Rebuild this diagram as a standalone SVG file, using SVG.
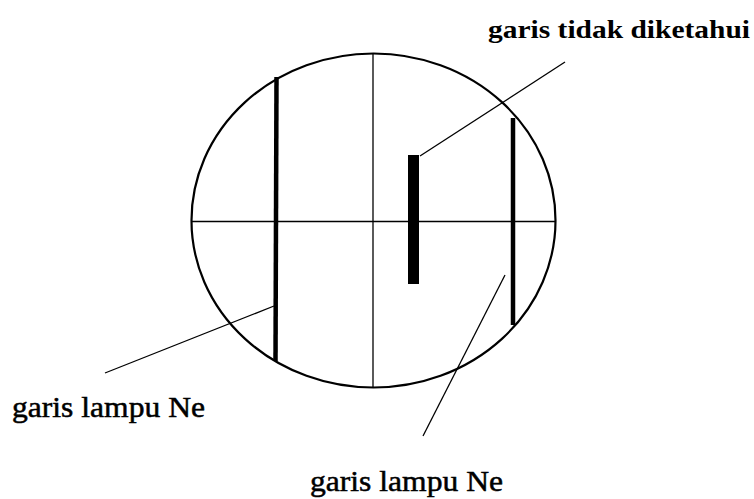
<svg xmlns="http://www.w3.org/2000/svg" width="754" height="499" viewBox="0 0 754 499">
  <style>
    .thin { stroke: #000; stroke-width: 1.3; fill: none; }
    .rim { stroke: #000; stroke-width: 2.2; fill: none; }
    .thick { stroke: #000; stroke-width: 4.5; fill: none; }
    .lbl { font-family: "Liberation Serif", "Times New Roman", serif; fill: #000; }
    .heavy { stroke: #000; stroke-width: 0.5; }
  </style>
  <rect width="754" height="499" fill="#fff"/>
  <g id="scope">
    <ellipse class="rim" cx="373.5" cy="220.5" rx="182" ry="167"/>
    <line class="thin" x1="373" y1="54" x2="373" y2="387"/>
    <line class="thin" x1="191.5" y1="221.5" x2="555.5" y2="221.5"/>
  </g>
  <g id="left-ne-line">
    <line class="thick" x1="276.5" y1="77" x2="275.5" y2="361"/>
  </g>
  <g id="right-ne-line">
    <line class="thick" x1="513" y1="118" x2="513" y2="325"/>
  </g>
  <g id="unknown-line">
    <rect x="408" y="155" width="11" height="129" fill="#000"/>
  </g>
  <g id="connectors">
    <line class="thin" x1="420" y1="156" x2="565" y2="62"/>
    <line class="thin" x1="274" y1="306" x2="105" y2="373"/>
    <line class="thin" x1="505" y1="275" x2="423" y2="436"/>
  </g>
  <g id="labels">
    <text class="lbl" x="488" y="38" font-size="26" font-weight="bold" textLength="262" lengthAdjust="spacingAndGlyphs">garis tidak diketahui</text>
    <text class="lbl heavy" x="12" y="417" font-size="29" textLength="193" lengthAdjust="spacingAndGlyphs">garis lampu Ne</text>
    <text class="lbl heavy" x="310" y="491" font-size="29" textLength="193" lengthAdjust="spacingAndGlyphs">garis lampu Ne</text>
  </g>
</svg>
